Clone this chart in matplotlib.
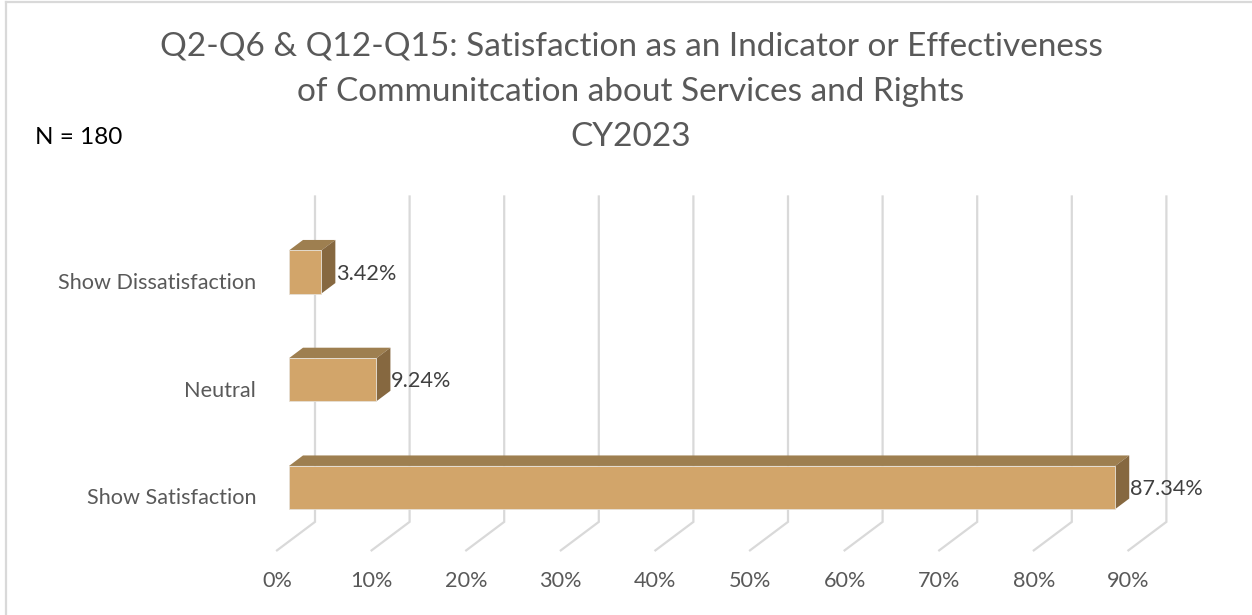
import matplotlib
matplotlib.use("Agg")
import matplotlib.pyplot as plt
from matplotlib.patches import Polygon, Rectangle
from matplotlib.lines import Line2D

# ---------------- data ----------------
categories = ["Show Dissatisfaction", "Neutral", "Show Satisfaction"]
values = [3.42, 9.24, 87.34]
value_labels = ["3.42%", "9.24%", "87.34%"]
tick_values = [0, 10, 20, 30, 40, 50, 60, 70, 80, 90]
tick_labels = ["0%", "10%", "20%", "30%", "40%", "50%", "60%", "70%", "80%", "90%"]
title = ("Q2-Q6 & Q12-Q15: Satisfaction as an Indicator or Effectiveness\n"
         "of Communitcation about Services and Rights\nCY2023")
n_label = "N = 180"

# ---------------- style ----------------
FONT = ["Lato", "DejaVu Sans"]
TXT = "#595959"
FRONT = "#D2A56A"
TOP = "#9E7F50"
SIDE = "#866840"
GRID = "#D9D9D9"
LBL = 15.6

W, H = 1252, 615
fig = plt.figure(figsize=(W / 100, H / 100), dpi=100)
ax = fig.add_axes([0, 0, 1, 1])
PX_X = 9.46      # pixels per percent
PX_Y = 107.75    # pixels per category step
x0_px, y0_px = 289, 272
ax.set_xlim(-x0_px / PX_X, (W - x0_px) / PX_X)
ax.set_ylim((H - y0_px) / PX_Y, -y0_px / PX_Y)
ax.axis("off")


def off(dx, dy):
    """pixel offset (image-down y) -> data offset"""
    return dx / PX_X, dy / PX_Y


FX, FY = off(-12, 9)       # front floor plane
BX, BY = off(14, -10.5)    # bar depth
WX, WY = off(26, -19.5)    # back wall
Y_TOP, Y_FLOOR = -0.52, 2.5
BAR_H = 0.4

# gridlines (back wall + floor)
for t in tick_values:
    ax.plot([t + WX, t + WX, t + FX], [Y_TOP + WY, Y_FLOOR + WY, Y_FLOOR + FY],
            color=GRID, lw=1.6, zorder=1, solid_joinstyle="miter")

# bars
for i, v in enumerate(values):
    y1, y2 = i - BAR_H / 2, i + BAR_H / 2
    ax.add_patch(Polygon([(0, y1), (v, y1), (v + BX, y1 + BY), (BX, y1 + BY)],
                         closed=True, facecolor=TOP, edgecolor="none", zorder=3))
    ax.add_patch(Polygon([(v, y1), (v + BX, y1 + BY), (v + BX, y2 + BY), (v, y2)],
                         closed=True, facecolor=SIDE, edgecolor="none", zorder=3))
    ax.add_patch(Rectangle((0, y1), v, BAR_H, facecolor=FRONT, edgecolor="#E6E0D6",
                           lw=0.6, zorder=4))
    ax.text(v + BX + 0.1, i + 0.015, value_labels[i], ha="left", va="center",
            fontsize=LBL, color="#404040", family=FONT, zorder=5)
    ax.text(-33 / PX_X, i + 11 / PX_Y, categories[i], ha="right", va="center",
            fontsize=LBL, color=TXT, family=FONT)

for t, lab in zip(tick_values, tick_labels):
    ax.text(t + FX, Y_FLOOR + FY + 31 / PX_Y, lab, ha="center", va="center",
            fontsize=LBL, color=TXT, family=FONT)

fig.text(631 / W, 1 - 92 / H, title, ha="center", va="center", fontsize=24,
         color=TXT, family=FONT, linespacing=1.63)
fig.text(35 / W, 1 - 137 / H, n_label, ha="left", va="center", fontsize=17.5,
         color="#000000", family=FONT)

# chart-area border
fig.add_artist(Line2D([5.5 / W, 5.5 / W], [0, 1 - 1.5 / H], color=GRID, lw=1.6,
                      transform=fig.transFigure))
fig.add_artist(Line2D([5.5 / W, 1], [1 - 1.5 / H, 1 - 1.5 / H], color=GRID, lw=1.6,
                      transform=fig.transFigure))

fig.savefig("out.png", dpi=100)
